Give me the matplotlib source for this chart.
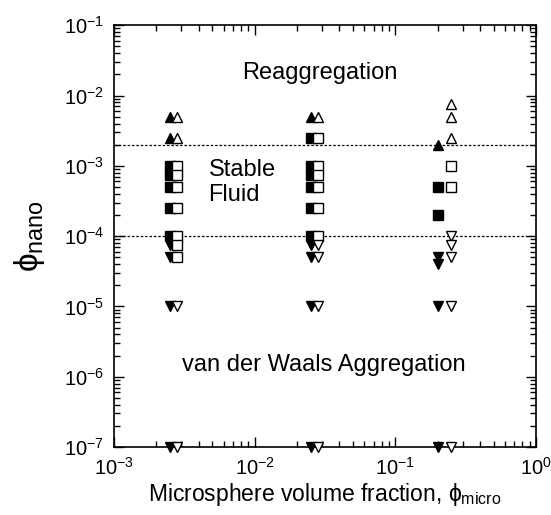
import numpy as np
import matplotlib
matplotlib.use("Agg")
import matplotlib.pyplot as plt
from matplotlib.ticker import LogLocator, NullFormatter

plt.rcParams['font.family'] = ['Liberation Sans', 'DejaVu Sans']
plt.rcParams['mathtext.fontset'] = 'custom'
plt.rcParams['mathtext.rm'] = 'Liberation Sans'
plt.rcParams['mathtext.it'] = 'Liberation Sans'

# filled = first x of each column, open = slightly shifted x
filled_x = [0.0025, 0.025, 0.2]
open_x = [0.0028, 0.028, 0.25]

# phi_nano values per column
up_filled = [[5e-3, 2.5e-3], [5e-3], [2e-3]]
up_open = [[5e-3, 2.5e-3], [5e-3], [7.5e-3, 5e-3, 2.5e-3]]
sq_filled = [[1e-3, 7.5e-4, 5e-4, 2.5e-4, 1e-4],
             [2.5e-3, 1e-3, 7.5e-4, 5e-4, 2.5e-4, 1e-4],
             [5e-4, 2e-4]]
sq_open = [[1e-3, 7.5e-4, 5e-4, 2.5e-4, 1e-4, 7.5e-5, 5e-5],
           [2.5e-3, 1e-3, 7.5e-4, 5e-4, 2.5e-4, 1e-4],
           [1e-3, 5e-4]]
dn_filled = [[7.5e-5, 5e-5, 1e-5, 1e-7],
             [7.5e-5, 5e-5, 1e-5, 1e-7],
             [5e-5, 4e-5, 1e-5, 1e-7]]
dn_open = [[1e-5, 1e-7],
           [7.5e-5, 5e-5, 1e-5, 1e-7],
           [1e-4, 7.5e-5, 5e-5, 1e-5, 1e-7]]

boundaries = [2e-3, 1e-4]


def flat(xs, groups):
    px, py = [], []
    for x, g in zip(xs, groups):
        px += [x] * len(g)
        py += g
    return px, py


fig = plt.figure(figsize=(5.51, 5.15), dpi=100)
ax = fig.add_axes([0.207, 0.132, 0.766, 0.819])

ms = 7.2
for groups, mk in [(up_filled, '^'), (sq_filled, 's'), (dn_filled, 'v')]:
    px, py = flat(filled_x, groups)
    ax.plot(px, py, ls='none', marker=mk, ms=ms, mfc='black', mec='black',
            mew=1.0, clip_on=False, zorder=3)
for groups, mk in [(up_open, '^'), (sq_open, 's'), (dn_open, 'v')]:
    px, py = flat(open_x, groups)
    ax.plot(px, py, ls='none', marker=mk, ms=ms, mfc='white', mec='black',
            mew=1.0, clip_on=False, zorder=4)

for b in boundaries:
    ax.axhline(b, color='black', ls=(0, (2, 1.5)), lw=0.9, zorder=2)

ax.set_xscale('log')
ax.set_yscale('log')
ax.set_xlim(1e-3, 1)
ax.set_ylim(1e-7, 1e-1)

ax.xaxis.set_major_locator(LogLocator(base=10, numticks=10))
ax.yaxis.set_major_locator(LogLocator(base=10, numticks=10))
ax.xaxis.set_minor_locator(LogLocator(base=10, subs=np.arange(2, 10), numticks=20))
ax.yaxis.set_minor_locator(LogLocator(base=10, subs=np.arange(2, 10), numticks=20))
ax.xaxis.set_minor_formatter(NullFormatter())
ax.yaxis.set_minor_formatter(NullFormatter())

ax.tick_params(which='both', direction='in', top=True, right=True,
               labelsize=14.5, width=1.0)
ax.tick_params(which='major', length=7, pad=7)
ax.tick_params(which='minor', length=4)
for s in ax.spines.values():
    s.set_linewidth(1.2)

ax.text(0.029, 0.021, 'Reaggregation', fontsize=17, ha='center', va='center')
ax.text(0.0047, 5.8e-4, 'Stable\nFluid', fontsize=17, ha='left', va='center',
        linespacing=1.15)
ax.text(0.031, 1.45e-6, 'van der Waals Aggregation', fontsize=17,
        ha='center', va='center')

ax.set_xlabel(r'Microsphere volume fraction, $\phi_{\mathrm{micro}}$',
              fontsize=16.5)
ax.xaxis.set_label_coords(0.5, -0.08)
ax.set_ylabel(r'$\phi_{\mathrm{nano}}$', fontsize=24, labelpad=12)

fig.savefig('out.png', dpi=100)
